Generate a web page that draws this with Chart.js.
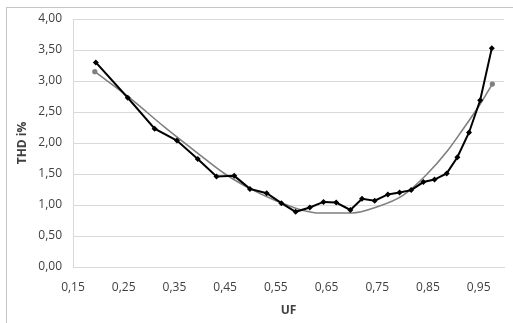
<!DOCTYPE html>
<html>
<head>
<meta charset="utf-8">
<script src="https://cdn.jsdelivr.net/npm/chart.js@4/dist/chart.umd.min.js"></script>
<style>
  html, body { margin: 0; padding: 0; background: #fff; }
  #wrap { position: relative; width: 513px; height: 323px; overflow: hidden; }
  #frame { position: absolute; left: 6px; top: 7px; width: 520px; height: 330px;
           border-top: 1px solid #c4c4c4; border-left: 1px solid #c4c4c4; box-sizing: border-box; pointer-events: none; }
  canvas { position: absolute; left: 0; top: 0; }
</style>
</head>
<body>
<div id="wrap">
  <canvas id="c" width="513" height="323"></canvas>
  <div id="frame"></div>
</div>
<script>
// Measured series (black, diamonds)
const uf = [0.195, 0.258, 0.311, 0.355, 0.396, 0.433, 0.468, 0.499, 0.532, 0.561, 0.589, 0.617, 0.644, 0.669,
            0.697, 0.720, 0.745, 0.771, 0.794, 0.817, 0.841, 0.863, 0.887, 0.908, 0.931, 0.953, 0.976];
const thd = [3.30, 2.73, 2.23, 2.04, 1.74, 1.46, 1.47, 1.26, 1.19, 1.03, 0.89, 0.96, 1.05, 1.04,
             0.92, 1.10, 1.07, 1.17, 1.20, 1.24, 1.37, 1.41, 1.51, 1.77, 2.17, 2.69, 3.53];
// Fitted curve (gray)
const fitUF  = [0.193, 0.260, 0.330, 0.400, 0.450, 0.500, 0.550, 0.600, 0.637, 0.700, 0.750, 0.800, 0.846, 0.889, 0.918, 0.951, 0.977];
const fitTHD = [3.15, 2.74, 2.26, 1.81, 1.50, 1.26, 1.07, 0.92, 0.87, 0.87, 0.97, 1.15, 1.48, 1.88, 2.21, 2.60, 2.95];
// Tick labels
const xTicks = [0.15, 0.25, 0.35, 0.45, 0.55, 0.65, 0.75, 0.85, 0.95];
const xTickLabels = ["0,15", "0,25", "0,35", "0,45", "0,55", "0,65", "0,75", "0,85", "0,95"];
const yTicks = [0, 0.5, 1, 1.5, 2, 2.5, 3, 3.5, 4];
const yTickLabels = ["0,00", "0,50", "1,00", "1,50", "2,00", "2,50", "3,00", "3,50", "4,00"];
const xTitle = "UF";
const yTitle = "THD i%";

const tickFont = { family: "'Open Sans', sans-serif", size: 12 };
const titleFont = { family: "'Open Sans', sans-serif", size: 12, weight: 'bold' };
const gridColor = '#d9d9d9';

new Chart(document.getElementById('c'), {
  type: 'line',
  data: {
    datasets: [
      {
        label: 'THD',
        data: uf.map((x, i) => ({ x: x, y: thd[i] })),
        borderColor: '#000000',
        backgroundColor: '#000000',
        borderWidth: 2,
        pointStyle: 'rectRot',
        pointRadius: 3,
        pointBorderWidth: 0,
        tension: 0,
        fill: false
      },
      {
        label: 'Fit',
        data: fitUF.map((x, i) => ({ x: x, y: fitTHD[i] })),
        borderColor: '#7f7f7f',
        backgroundColor: '#7f7f7f',
        borderWidth: 1.6,
        pointStyle: 'circle',
        pointRadius: fitUF.map((x, i) => (i === 0 || i === fitUF.length - 1) ? 2.6 : 0),
        pointBorderWidth: 0,
        cubicInterpolationMode: 'monotone',
        fill: false
      }
    ]
  },
  options: {
    responsive: false,
    animation: false,
    events: [],
    layout: { padding: { left: 0, top: 19, right: 9, bottom: 0 } },
    plugins: { legend: { display: false }, tooltip: { enabled: false } },
    scales: {
      x: {
        type: 'linear',
        min: 0.15,
        max: 1.0,
        afterBuildTicks: (scale) => { scale.ticks = xTicks.map(v => ({ value: v })); },
        afterFit: (scale) => { scale.height = 56; },
        ticks: {
          font: tickFont, color: '#404040', padding: 13, maxRotation: 0, autoSkip: false,
          callback: (v) => { const i = xTicks.findIndex(t => Math.abs(t - v) < 1e-9); return i >= 0 ? xTickLabels[i] : ''; }
        },
        grid: { display: false, drawTicks: false },
        border: { display: true, color: gridColor, width: 1 },
        title: { display: true, text: xTitle, font: titleFont, color: '#404040', padding: { top: 0, bottom: 5 } }
      },
      y: {
        type: 'linear',
        min: 0,
        max: 4,
        afterBuildTicks: (scale) => { scale.ticks = yTicks.map(v => ({ value: v })); },
        afterFit: (scale) => { scale.width = 73; },
        ticks: {
          font: tickFont, color: '#404040', padding: 11,
          callback: (v) => { const i = yTicks.findIndex(t => Math.abs(t - v) < 1e-9); return i >= 0 ? yTickLabels[i] : ''; }
        },
        grid: { display: true, color: gridColor, lineWidth: 1, drawTicks: false },
        border: { display: true, color: gridColor, width: 1 },
        title: { display: true, text: yTitle, font: titleFont, color: '#404040', padding: { top: 15, bottom: 0 } }
      }
    }
  }
});
</script>
</body>
</html>
